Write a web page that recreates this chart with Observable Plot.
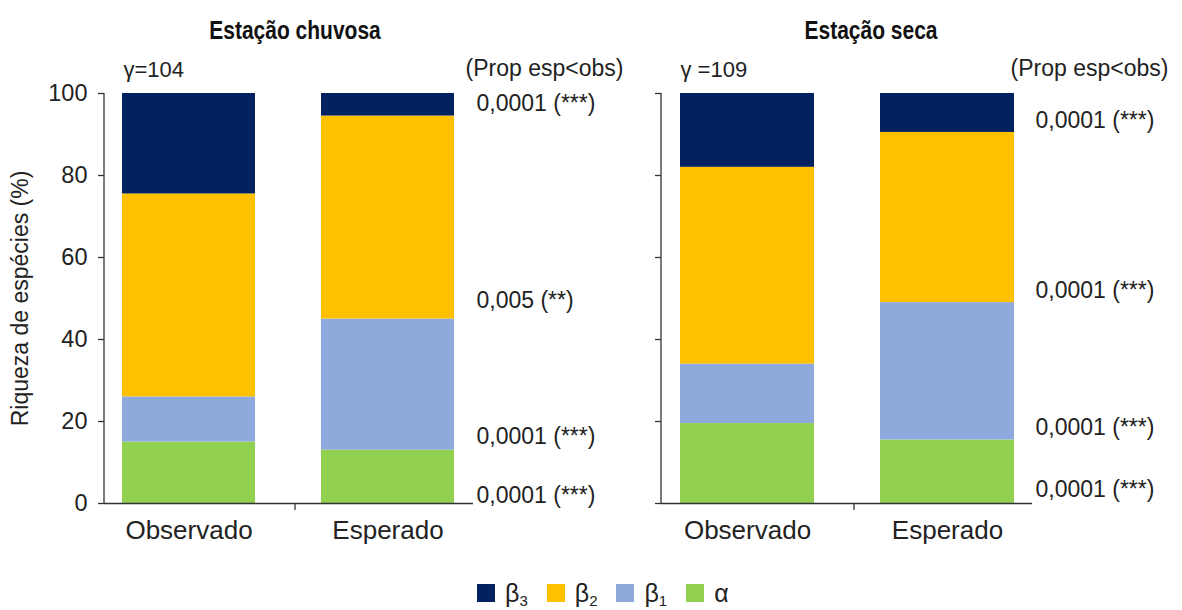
<!DOCTYPE html>
<html>
<head>
<meta charset="utf-8">
<script src="https://cdn.jsdelivr.net/npm/d3@7"></script>
<script src="https://cdn.jsdelivr.net/npm/@observablehq/plot@0.6"></script>
<style>
  body { margin: 0; background: #fff; }
  #chart { position: relative; width: 1182px; height: 610px; overflow: hidden; font-family: "Liberation Sans", Arial, sans-serif; color: #222; }
  #chart svg { position: absolute; top: 0; background: none; }
  #legend { position: absolute; top: 579px; left: 477px; display: flex; align-items: center; gap: 19px; font-size: 25px; line-height: 28px; }
  #legend .item { display: flex; align-items: center; }
  #legend .swatch { width: 18px; height: 18px; margin-right: 10px; }
  #legend sub { font-size: 15px; vertical-align: -4px; line-height: 0; }
</style>
</head>
<body>
<div id="chart"></div>
<script>
// Components of species richness, listed top of the stack first
const components = ["β3", "β2", "β1", "α"];
const componentLabels = ["β<sub>3</sub>", "β<sub>2</sub>", "β<sub>1</sub>", "α"];
const componentColors = ["#022160", "#FFC000", "#8EA9DB", "#92D050"];
const categories = ["Observado", "Esperado"];
const yTicks = [0, 20, 40, 60, 80, 100];

// Rainy season: share of richness (%) for Observado, Esperado
const rainyAlpha = [15, 13];
const rainyBeta1 = [11, 32];
const rainyBeta2 = [49.5, 49.5];
const rainyBeta3 = [24.5, 5.5];
const rainyGamma = "γ=104";
const rainyPvalues = ["0,0001 (***)", "0,005 (**)", "0,0001 (***)", "0,0001 (***)"];

// Dry season
const dryAlpha = [19.5, 15.5];
const dryBeta1 = [14.5, 33.5];
const dryBeta2 = [48, 41.5];
const dryBeta3 = [18, 9.5];
const dryGamma = "γ =109";
const dryPvalues = ["0,0001 (***)", "0,0001 (***)", "0,0001 (***)", "0,0001 (***)"];

const font = "Liberation Sans, Arial, sans-serif";

function panel(cfg) {
  // long table, bottom component first so the stack grows upward α → β3
  const rows = [];
  categories.forEach((c, i) => {
    rows.push({category: c, component: "α", value: cfg.alpha[i]});
    rows.push({category: c, component: "β1", value: cfg.beta1[i]});
    rows.push({category: c, component: "β2", value: cfg.beta2[i]});
    rows.push({category: c, component: "β3", value: cfg.beta3[i]});
  });
  const notes = cfg.pvalues.map((text, i) => ({text, at: cfg.pvalueAt[i]}));

  // vertical axis line plus the small tick between the two categories
  const axisLines = (index, scales, values, dims) => {
    const g = d3.create("svg:g").attr("stroke", "#333").attr("stroke-width", 1.3);
    const x0 = dims.marginLeft;
    g.append("line").attr("x1", x0).attr("x2", x0)
      .attr("y1", scales.y(100)).attr("y2", scales.y(0));
    const xo = scales.x("Observado"), xe = scales.x("Esperado");
    const bw = typeof scales.x.bandwidth === "function" ? scales.x.bandwidth() : (xe - xo) * 0.67;
    const xm = (xo + bw + xe) / 2 + cfg.midTickShift;
    g.append("line").attr("x1", xm).attr("x2", xm)
      .attr("y1", scales.y(0)).attr("y2", scales.y(0) + 7);
    return g.node();
  };

  const svg = Plot.plot({
    width: cfg.width,
    height: 560,
    marginTop: 93,
    marginBottom: 57,
    marginLeft: cfg.marginLeft,
    marginRight: cfg.marginRight,
    style: {fontFamily: font, background: "none", overflow: "visible", color: "#222"},
    x: {domain: categories, paddingInner: 0.33, paddingOuter: 0.09, axis: null},
    y: {domain: [0, 100], axis: null},
    color: {domain: components, range: componentColors},
    marks: [
      Plot.barY(rows, {x: "category", y: "value", fill: "component"}),
      Plot.ruleY([0], {stroke: "#333", strokeWidth: 1.3}),
      axisLines,
      Plot.axisY(yTicks, {
        tickSize: 6, tickPadding: 11, fontSize: 23.5, stroke: "#333", strokeWidth: 1.3,
        tickFormat: cfg.yLabels ? (d) => d : () => "", label: null
      }),
      Plot.axisX(categories, {tickSize: 0, tickPadding: 17, fontSize: 26, label: null}),
      // panel title and header texts
      Plot.text([cfg.title], {frameAnchor: "top", lineAnchor: "middle", dx: cfg.titleDx, dy: -63, fontSize: 25, fontWeight: "bold", fill: "#111"}),
      Plot.text([cfg.gamma], {frameAnchor: "top-left", textAnchor: "start", lineAnchor: "middle", dx: cfg.gammaDx, dy: -24, fontSize: 22, fill: "#222"}),
      Plot.text(["(Prop esp<obs)"], {frameAnchor: "top-right", textAnchor: "start", lineAnchor: "middle", dx: cfg.propDx, dy: -25, fontSize: 23, fill: "#222"}),
      // significance of expected < observed, beside the Esperado bar
      Plot.text(notes, {y: "at", text: "text", frameAnchor: "right", textAnchor: "start", dx: 3, fontSize: 23, fill: "#222"}),
      ...(cfg.yLabels ? [Plot.text(["Riqueza de espécies (%)"], {frameAnchor: "left", textAnchor: "middle", rotate: -90, dx: -84, fontSize: 23, fill: "#222"})] : [])
    ]
  });
  svg.style.left = cfg.left + "px";
  return svg;
}

const chart = document.getElementById("chart");

const panels = [
  {
    title: "Estação chuvosa", gamma: rainyGamma,
    alpha: rainyAlpha, beta1: rainyBeta1, beta2: rainyBeta2, beta3: rainyBeta3,
    pvalues: rainyPvalues, pvalueAt: [97.5, 49.5, 16.3, 2],
    yLabels: true, left: 0, width: 640, marginLeft: 104, marginRight: 167,
    titleDx: 6, gammaDx: 19, propDx: -8, midTickShift: 7
  },
  {
    title: "Estação seca", gamma: dryGamma,
    alpha: dryAlpha, beta1: dryBeta1, beta2: dryBeta2, beta3: dryBeta3,
    pvalues: dryPvalues, pvalueAt: [93.4, 52, 18.5, 3.4],
    yLabels: false, left: 600, width: 582, marginLeft: 61, marginRight: 150,
    titleDx: 24, gammaDx: 19, propDx: -22, midTickShift: 7
  }
];

for (const cfg of panels) {
  const svg = panel(cfg);
  chart.append(svg);
  // titles are set in a condensed bold face
  d3.select(svg).selectAll("text")
    .filter(function () { return this.textContent === cfg.title; })
    .each(function () {
      const len = this.getComputedTextLength();
      this.setAttribute("textLength", len * 0.84);
      this.setAttribute("lengthAdjust", "spacingAndGlyphs");
    });
}

// legend below both panels
const legend = d3.select(chart).append("div").attr("id", "legend");
components.forEach((c, i) => {
  const item = legend.append("div").attr("class", "item");
  item.append("div").attr("class", "swatch").style("background", componentColors[i]);
  item.append("span").html(componentLabels[i]);
});
</script>
</body>
</html>
